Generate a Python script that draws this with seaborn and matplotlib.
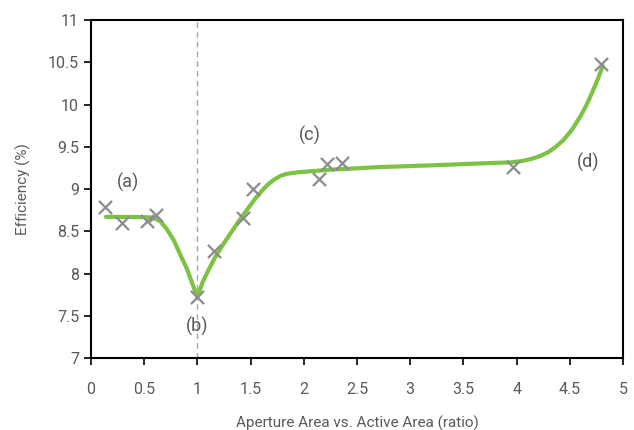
import pandas as pd
import matplotlib
matplotlib.use("Agg")
import matplotlib.pyplot as plt
import seaborn as sns

# medições (pontos x)
ratio_medido = [0.13, 0.29, 0.53, 0.61, 1.00, 1.16, 1.43, 1.52, 2.14, 2.22, 2.36, 3.97, 4.79]
eficiencia_medida = [8.79, 8.60, 8.62, 8.69, 7.72, 8.27, 8.66, 9.00, 9.12, 9.30, 9.31, 9.26, 10.48]

# curva de tendência
ratio_curva = [0.14, 0.35, 0.55, 0.60, 0.65, 0.71, 0.78, 0.84, 0.90, 0.95, 1.00,
               1.05, 1.10, 1.17, 1.25, 1.33, 1.40, 1.47, 1.54, 1.60, 1.66,
               1.72, 1.78, 1.84, 1.96, 2.27, 2.72, 3.20, 3.60, 3.94, 4.05,
               4.15, 4.22, 4.29, 4.37, 4.44, 4.52, 4.60, 4.66, 4.72, 4.77, 4.81]
eficiencia_curva = [8.67, 8.67, 8.665, 8.65, 8.62, 8.53, 8.39, 8.22, 8.06, 7.89, 7.72,
                    7.90, 8.03, 8.20, 8.36, 8.51, 8.64, 8.76, 8.88, 8.97, 9.05,
                    9.11, 9.155, 9.18, 9.20, 9.23, 9.26, 9.28, 9.30, 9.315, 9.33,
                    9.36, 9.39, 9.43, 9.50, 9.58, 9.70, 9.86, 10.00, 10.17, 10.32, 10.46]

rotulos = ['(a)', '(b)', '(c)', '(d)']
rotulos_x = [0.35, 1.00, 2.06, 4.67]
rotulos_y = [9.08, 7.37, 9.64, 9.32]

df_medido = pd.DataFrame({'ratio': ratio_medido, 'eficiencia': eficiencia_medida})
df_curva = pd.DataFrame({'ratio': ratio_curva, 'eficiencia': eficiencia_curva})

sns.set_style('white')
plt.rcParams['font.family'] = ['Roboto', 'DejaVu Sans']
cinza_texto = '#595959'

fig = plt.figure(figsize=(6.34, 4.30), dpi=100)
ax = fig.add_axes([0.1435, 0.1674, 0.8391, 0.7861])

# linha tracejada em x = 1
ax.axvline(1.0, color='#a6a6a6', linestyle=(0, (4, 3)), linewidth=1, zorder=1)

sns.lineplot(data=df_curva, x='ratio', y='eficiencia', sort=False, color='#7dc242',
             linewidth=3, ax=ax, zorder=2)
sns.scatterplot(data=df_medido, x='ratio', y='eficiencia', marker='x', s=90,
                color='#8c8c8c', linewidth=1.6, ax=ax, zorder=3)

for txt, xx, yy in zip(rotulos, rotulos_x, rotulos_y):
    ax.text(xx, yy, txt, ha='center', va='center', fontsize=13, color=cinza_texto)

ax.set_xlim(0, 5)
ax.set_ylim(7, 11)
ax.set_xticks([0, 0.5, 1, 1.5, 2, 2.5, 3, 3.5, 4, 4.5, 5])
ax.set_xticklabels(['0', '0.5', '1', '1.5', '2', '2.5', '3', '3.5', '4', '4.5', '5'])
ax.set_yticks([7, 7.5, 8, 8.5, 9, 9.5, 10, 10.5, 11])
ax.set_yticklabels(['7', '7.5', '8', '8.5', '9', '9.5', '10', '10.5', '11'])
ax.tick_params(axis='both', direction='out', length=5, width=1.2, color='black',
               labelsize=11.5, labelcolor=cinza_texto, left=True, bottom=True)
ax.tick_params(axis='x', pad=12)
for lado in ['left', 'right', 'top', 'bottom']:
    ax.spines[lado].set_visible(True)
    ax.spines[lado].set_color('black')
    ax.spines[lado].set_linewidth(1.5)

ax.set_xlabel('Aperture Area vs. Active Area (ratio)', fontsize=11, color=cinza_texto, labelpad=14)
ax.set_ylabel('Efficiency (%)', fontsize=11, color=cinza_texto, labelpad=12)

fig.savefig('out.png', dpi=100)
